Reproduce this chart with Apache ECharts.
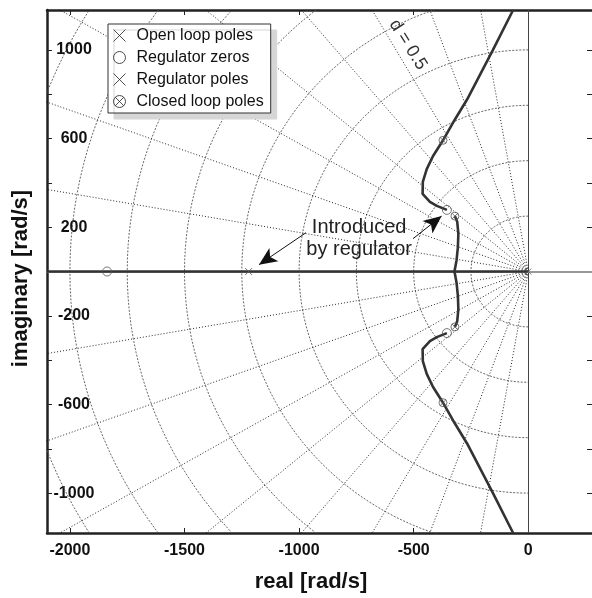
<!DOCTYPE html>
<html>
<head>
<meta charset="utf-8">
<title>Root locus</title>
<script src="https://cdn.jsdelivr.net/npm/echarts@6/dist/echarts.min.js"></script>
<style>
  html, body { margin: 0; padding: 0; background: #fff; overflow: hidden; }
  /* a little wider than the window: the right frame of the axes falls just outside the picture */
  #chart { width: 600px; height: 598px; }
</style>
</head>
<body>
<div id="chart"></div>
<script>
'use strict';
// ticks and tick labels
var xTicks = [-2000, -1500, -1000, -500, 0];
var yTicks = [-1000, -800, -600, -400, -200, 0, 200, 400, 600, 800, 1000];
var yTickLabels = [-1000, -600, -200, 200, 600, 1000];

// s-plane grid: natural frequency circles [rad/s] and damping rays (deg from negative real axis)
var gridRadii = [250, 500, 750, 1000, 1250, 1500, 1750, 2000, 2250, 2500];
var gridAngles = [10, 20, 30, 40, 50, 60, 70, 80];

// root locus branches [re, im], upper half (lower half is the mirror image)
var asymptoteBranch = [[-66, 1180], [-154, 1000], [-267, 776], [-320, 686], [-372, 592], [-416, 520],
    [-443, 462], [-460, 404], [-461, 350], [-429, 314], [-399, 296], [-355, 278]];
var breakInBranch = [[-320, 250], [-310, 225], [-305, 170], [-307, 110], [-313, 50], [-322, 0]];
var realAxisBranch = [[-2100, 0], [0, 0]];

// poles and zeros
var openLoopPoles = [[0, 0]];
var regulatorZeros = [[-1838, 0], [-355, 278], [-355, -278]];
var regulatorPoles = [[-1220, 0]];
var closedLoopPoles = [[-372, 592], [-320, 250], [-320, -250], [-372, -592]];

// annotations
var arrowLeft = [[-970, 175], [-1175, 31]];
var arrowRight = [[-503, 148], [-378, 250]];
var introLabelAt = [-738, 150];
var dampingLabelAt = [-525, 1023];

var FONT = 'Liberation Sans';
var crossSym = 'path://M0,0L10,10M10,0L0,10';
var otimesSym = 'path://M0,5A5,5,0,1,1,10,5A5,5,0,1,1,0,5ZM1.46,1.46L8.54,8.54M8.54,1.46L1.46,8.54';

function mirror(pts) {
    return pts.map(function (p) { return [p[0], -p[1]]; });
}

var chart = echarts.init(document.getElementById('chart'));

var series = [];

// circles of constant natural frequency (left half plane)
gridRadii.forEach(function (r) {
    var pts = [];
    for (var a = 90; a <= 270; a += 2) {
        var t = a * Math.PI / 180;
        pts.push([r * Math.cos(t), r * Math.sin(t)]);
    }
    series.push({
        type: 'line', data: pts, showSymbol: false, silent: true, z: 1,
        lineStyle: { color: '#555', width: 0.9, type: [2, 1.5] }
    });
});

// rays of constant damping
gridAngles.forEach(function (deg) {
    var t = deg * Math.PI / 180;
    [1, -1].forEach(function (s) {
        series.push({
            type: 'line', data: [[0, 0], [-3000 * Math.cos(t), s * 3000 * Math.sin(t)]],
            showSymbol: false, silent: true, z: 1,
            lineStyle: { color: '#111', width: 0.9, type: [1, 2] }
        });
    });
});

// real and imaginary axes
series.push({
    type: 'line', data: [], silent: true, z: 2,
    markLine: {
        z: 2, silent: true, animation: false, symbol: ['none', 'none'], label: { show: false },
        data: [
            { xAxis: 0, lineStyle: { color: '#444', width: 1, type: 'solid' } },
            { yAxis: 0, lineStyle: { color: '#999', width: 2, type: 'solid' } }
        ]
    }
});

var locusStyle = { color: '#333', width: 2.6 };
[realAxisBranch, asymptoteBranch, mirror(asymptoteBranch), breakInBranch, mirror(breakInBranch)].forEach(function (b) {
    series.push({ type: 'line', data: b, showSymbol: false, silent: true, z: 3, lineStyle: locusStyle });
});

// arrows "Introduced by regulator"
series.push({
    type: 'line', data: [], silent: true, z: 5,
    markLine: {
        z: 5, silent: true, animation: false, symbol: ['none', 'arrow'], symbolSize: [12, 18],
        label: { show: false },
        lineStyle: { color: '#111', width: 1, type: 'solid' },
        data: [
            [{ coord: arrowLeft[0] }, { coord: arrowLeft[1] }],
            [{ coord: arrowRight[0] }, { coord: arrowRight[1] }]
        ]
    }
});

var markStyle = { color: 'none', borderColor: '#555', borderWidth: 1 };
series.push(
    { name: 'Open loop poles', type: 'scatter', data: openLoopPoles, symbol: crossSym, symbolSize: 6, itemStyle: markStyle, z: 4 },
    { name: 'Regulator zeros', type: 'scatter', data: regulatorZeros, symbol: 'circle', symbolSize: 9, itemStyle: markStyle, z: 4 },
    { name: 'Regulator poles', type: 'scatter', data: regulatorPoles, symbol: crossSym, symbolSize: 7, itemStyle: markStyle, z: 4 },
    { name: 'Closed loop poles', type: 'scatter', data: closedLoopPoles, symbol: otimesSym, symbolSize: 8, itemStyle: markStyle, z: 4 }
);

var axisLineStyle = { color: '#222', width: 2.5 };
var tickStyle = { color: '#222', width: 1 };
var tickFont = {
    fontSize: 16, fontWeight: 'bold', color: '#111', fontFamily: FONT,
    formatter: function (v) { return String(v); }
};

var option = {
    animation: false,
    grid: { left: 47, right: 3, top: 10, bottom: 62, containLabel: false },
    legend: {
        left: 108, top: 24, orient: 'vertical', selectedMode: false,
        itemWidth: 24, itemHeight: 12, itemGap: 5,
        padding: [3, 7, 3, 3],
        backgroundColor: '#fff', borderColor: '#333', borderWidth: 1,
        shadowColor: '#d6d6d6', shadowBlur: 0, shadowOffsetX: 6, shadowOffsetY: 6,
        itemStyle: { color: 'none', borderColor: '#222', borderWidth: 1 },
        textStyle: { fontSize: 16, lineHeight: 16, color: '#111', fontFamily: FONT },
        data: ['Open loop poles', 'Regulator zeros', 'Regulator poles', 'Closed loop poles']
    },
    xAxis: [{
        type: 'value', position: 'bottom', min: -2100, max: 300,
        axisLine: { onZero: false, lineStyle: axisLineStyle },
        axisTick: { inside: true, length: 5, lineStyle: tickStyle, customValues: xTicks },
        axisLabel: Object.assign({ margin: 10, customValues: xTicks }, tickFont),
        splitLine: { show: false },
        name: 'real [rad/s]', nameLocation: 'middle', nameGap: 38,
        nameTextStyle: { fontSize: 22, fontWeight: 'bold', color: '#111', fontFamily: FONT, padding: [0, 22, 0, 0] }
    }, {
        type: 'value', position: 'top', min: -2100, max: 300,
        axisLine: { onZero: false, lineStyle: axisLineStyle },
        axisTick: { inside: true, length: 5, lineStyle: tickStyle, customValues: xTicks },
        axisLabel: { show: false }, splitLine: { show: false }
    }],
    yAxis: [{
        type: 'value', position: 'left', min: -1180, max: 1180,
        axisLine: { onZero: false, lineStyle: axisLineStyle },
        axisTick: { inside: true, length: 5, lineStyle: tickStyle, customValues: yTicks },
        axisLabel: Object.assign({ inside: true, align: 'center', margin: 27, customValues: yTickLabels }, tickFont),
        splitLine: { show: false },
        name: 'imaginary [rad/s]', nameLocation: 'middle', nameGap: 15,
        nameTextStyle: { fontSize: 22, fontWeight: 'bold', color: '#111', fontFamily: FONT, padding: [0, 14, 0, 0] }
    }, {
        type: 'value', position: 'right', min: -1180, max: 1180,
        axisLine: { onZero: false, lineStyle: axisLineStyle },
        axisTick: { inside: true, length: 10, lineStyle: tickStyle, customValues: yTicks },
        axisLabel: { show: false }, splitLine: { show: false }
    }],
    series: series
};
chart.setOption(option);

// text annotations placed through the axes
var introPx = chart.convertToPixel({ xAxisIndex: 0, yAxisIndex: 0 }, introLabelAt);
var dampPx = chart.convertToPixel({ xAxisIndex: 0, yAxisIndex: 0 }, dampingLabelAt);
chart.setOption({
    graphic: [{
        type: 'text', x: introPx[0], y: introPx[1], z: 10,
        style: {
            text: 'Introduced\nby regulator', fontSize: 20, lineHeight: 22, fontFamily: FONT,
            fill: '#222', align: 'center', verticalAlign: 'middle'
        }
    }, {
        type: 'text', x: dampPx[0], y: dampPx[1], rotation: -58 * Math.PI / 180, z: 10,
        style: {
            text: 'd = 0.5', fontSize: 18, fontFamily: FONT,
            fill: '#333', align: 'center', verticalAlign: 'middle'
        }
    }]
});
</script>
</body>
</html>
